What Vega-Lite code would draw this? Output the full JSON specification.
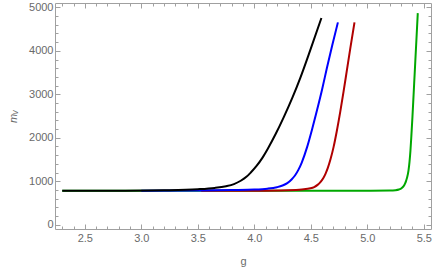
{
  "$schema": "https://vega.github.io/schema/vega-lite/v6.json",
  "autosize": "none",
  "width": 376,
  "height": 226,
  "padding": {"left": 55, "top": 3, "right": 5, "bottom": 45},
  "background": "white",
  "config": {
    "view": {"stroke": "#a0a0a0", "strokeWidth": 1},
    "axis": {"labelFont": "Liberation Sans", "labelFontSize": 11, "labelColor": "#6a6a6a", "titleFont": "Liberation Sans", "titleFontSize": 11, "titleColor": "#6a6a6a", "titleFontWeight": "normal", "tickColor": "#a0a0a0", "domain": false, "grid": false}
  },
  "data": {"values": [
    {"s": "black", "g": 2.3, "m": 778}, {"s": "black", "g": 2.8, "m": 782}, {"s": "black", "g": 3.2, "m": 792}, {"s": "black", "g": 3.5, "m": 815}, {"s": "black", "g": 3.65, "m": 845}, {"s": "black", "g": 3.75, "m": 885}, {"s": "black", "g": 3.82, "m": 934}, {"s": "black", "g": 3.88, "m": 1010}, {"s": "black", "g": 3.93, "m": 1100}, {"s": "black", "g": 3.969, "m": 1200}, {"s": "black", "g": 4.02, "m": 1350}, {"s": "black", "g": 4.07, "m": 1530}, {"s": "black", "g": 4.116, "m": 1731}, {"s": "black", "g": 4.19, "m": 2090}, {"s": "black", "g": 4.262, "m": 2480}, {"s": "black", "g": 4.34, "m": 2940}, {"s": "black", "g": 4.409, "m": 3390}, {"s": "black", "g": 4.5, "m": 4050}, {"s": "black", "g": 4.594, "m": 4754},
    {"s": "blue", "g": 3.0, "m": 778}, {"s": "blue", "g": 3.5, "m": 785}, {"s": "blue", "g": 3.8, "m": 797}, {"s": "blue", "g": 4.0, "m": 808}, {"s": "blue", "g": 4.116, "m": 828}, {"s": "blue", "g": 4.2, "m": 862}, {"s": "blue", "g": 4.25, "m": 900}, {"s": "blue", "g": 4.292, "m": 955}, {"s": "blue", "g": 4.33, "m": 1040}, {"s": "blue", "g": 4.36, "m": 1130}, {"s": "blue", "g": 4.39, "m": 1260}, {"s": "blue", "g": 4.42, "m": 1430}, {"s": "blue", "g": 4.468, "m": 1790}, {"s": "blue", "g": 4.51, "m": 2180}, {"s": "blue", "g": 4.556, "m": 2642}, {"s": "blue", "g": 4.6, "m": 3110}, {"s": "blue", "g": 4.643, "m": 3610}, {"s": "blue", "g": 4.69, "m": 4130}, {"s": "blue", "g": 4.74, "m": 4654},
    {"s": "red", "g": 3.53, "m": 778}, {"s": "red", "g": 4.0, "m": 781}, {"s": "red", "g": 4.3, "m": 793}, {"s": "red", "g": 4.42, "m": 810}, {"s": "red", "g": 4.497, "m": 836}, {"s": "red", "g": 4.53, "m": 865}, {"s": "red", "g": 4.56, "m": 915}, {"s": "red", "g": 4.585, "m": 980}, {"s": "red", "g": 4.61, "m": 1070}, {"s": "red", "g": 4.63, "m": 1170}, {"s": "red", "g": 4.65, "m": 1300}, {"s": "red", "g": 4.675, "m": 1510}, {"s": "red", "g": 4.702, "m": 1790}, {"s": "red", "g": 4.73, "m": 2150}, {"s": "red", "g": 4.761, "m": 2600}, {"s": "red", "g": 4.79, "m": 3060}, {"s": "red", "g": 4.82, "m": 3560}, {"s": "red", "g": 4.85, "m": 4060}, {"s": "red", "g": 4.887, "m": 4654},
    {"s": "green", "g": 2.3, "m": 778}, {"s": "green", "g": 4.0, "m": 780}, {"s": "green", "g": 5.0, "m": 782}, {"s": "green", "g": 5.2, "m": 784}, {"s": "green", "g": 5.25, "m": 792}, {"s": "green", "g": 5.28, "m": 808}, {"s": "green", "g": 5.303, "m": 836}, {"s": "green", "g": 5.32, "m": 880}, {"s": "green", "g": 5.335, "m": 950}, {"s": "green", "g": 5.345, "m": 1020}, {"s": "green", "g": 5.353, "m": 1090}, {"s": "green", "g": 5.365, "m": 1250}, {"s": "green", "g": 5.374, "m": 1450}, {"s": "green", "g": 5.382, "m": 1700}, {"s": "green", "g": 5.39, "m": 2030}, {"s": "green", "g": 5.4, "m": 2490}, {"s": "green", "g": 5.41, "m": 2996}, {"s": "green", "g": 5.42, "m": 3502}, {"s": "green", "g": 5.435, "m": 4261}, {"s": "green", "g": 5.447, "m": 4868}
  ]},
  "resolve": {"axis": {"x": "independent", "y": "independent"}},
  "layer": [
    {
      "transform": [{"filter": "datum.s == 'green'"}],
      "mark": {"type": "line", "color": "#00a800", "strokeWidth": 2, "interpolate": "monotone"},
      "encoding": {
        "x": {"field": "g", "type": "quantitative", "scale": {"domain": [2.236, 5.564], "nice": false, "zero": false},
          "axis": {"orient": "bottom", "title": "g", "titlePadding": 12, "values": [2.3,2.4,2.5,2.6,2.7,2.8,2.9,3.0,3.1,3.2,3.3,3.4,3.5,3.6,3.7,3.8,3.9,4.0,4.1,4.2,4.3,4.4,4.5,4.6,4.7,4.8,4.9,5.0,5.1,5.2,5.3,5.4,5.5],
            "labelExpr": "abs(datum.value*2 - round(datum.value*2)) < 0.001 ? format(datum.value, '.1f') : ''",
            "tickSize": {"condition": {"test": "abs(datum.value*2 - round(datum.value*2)) < 0.001", "value": -5}, "value": -3},
            "labelPadding": 8}},
        "y": {"field": "m", "type": "quantitative", "scale": {"domain": [-100, 5100], "nice": false, "zero": false},
          "axis": {"orient": "left", "title": "mᵥ", "titleFontStyle": "italic", "titlePadding": 10, "values": [0,200,400,600,800,1000,1200,1400,1600,1800,2000,2200,2400,2600,2800,3000,3200,3400,3600,3800,4000,4200,4400,4600,4800,5000],
            "labelExpr": "datum.value % 1000 == 0 ? format(datum.value, 'd') : ''",
            "tickSize": {"condition": {"test": "datum.value % 1000 == 0", "value": -5}, "value": -3},
            "labelPadding": 7}}
      }
    },
    {
      "transform": [{"filter": "datum.s == 'red'"}],
      "mark": {"type": "line", "color": "#b00000", "strokeWidth": 2, "interpolate": "monotone"},
      "encoding": {
        "x": {"field": "g", "type": "quantitative", "scale": {"domain": [2.236, 5.564], "nice": false, "zero": false},
          "axis": {"orient": "top", "title": null, "labels": false, "values": [2.3,2.4,2.5,2.6,2.7,2.8,2.9,3.0,3.1,3.2,3.3,3.4,3.5,3.6,3.7,3.8,3.9,4.0,4.1,4.2,4.3,4.4,4.5,4.6,4.7,4.8,4.9,5.0,5.1,5.2,5.3,5.4,5.5],
            "tickSize": {"condition": {"test": "abs(datum.value*2 - round(datum.value*2)) < 0.001", "value": -5}, "value": -3}}},
        "y": {"field": "m", "type": "quantitative", "scale": {"domain": [-100, 5100], "nice": false, "zero": false},
          "axis": {"orient": "right", "title": null, "labels": false, "values": [0,200,400,600,800,1000,1200,1400,1600,1800,2000,2200,2400,2600,2800,3000,3200,3400,3600,3800,4000,4200,4400,4600,4800,5000],
            "tickSize": {"condition": {"test": "datum.value % 1000 == 0", "value": -5}, "value": -3}}}
      }
    },
    {
      "transform": [{"filter": "datum.s == 'blue'"}],
      "mark": {"type": "line", "color": "#0000ff", "strokeWidth": 2, "interpolate": "monotone"},
      "encoding": {
        "x": {"field": "g", "type": "quantitative", "scale": {"domain": [2.236, 5.564], "nice": false, "zero": false}, "axis": null},
        "y": {"field": "m", "type": "quantitative", "scale": {"domain": [-100, 5100], "nice": false, "zero": false}, "axis": null}
      }
    },
    {
      "transform": [{"filter": "datum.s == 'black'"}],
      "mark": {"type": "line", "color": "#000000", "strokeWidth": 2, "interpolate": "monotone"},
      "encoding": {
        "x": {"field": "g", "type": "quantitative", "scale": {"domain": [2.236, 5.564], "nice": false, "zero": false}, "axis": null},
        "y": {"field": "m", "type": "quantitative", "scale": {"domain": [-100, 5100], "nice": false, "zero": false}, "axis": null}
      }
    }
  ]
}
